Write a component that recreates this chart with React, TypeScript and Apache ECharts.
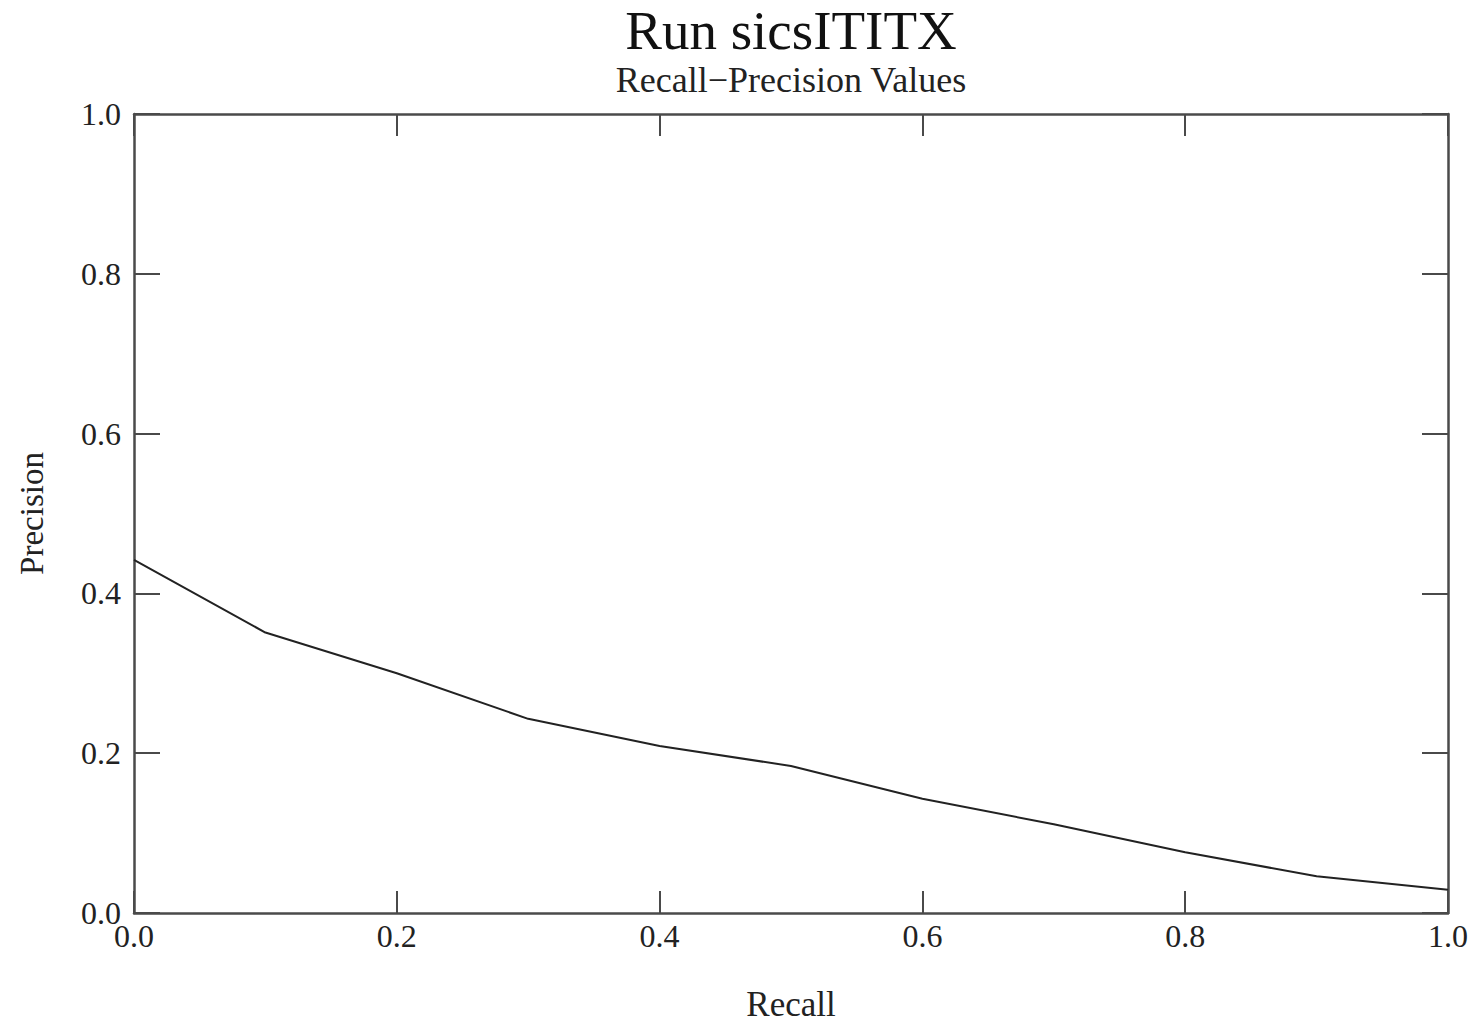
import React, { useEffect, useRef } from "react";
import * as echarts from "echarts";

const recallLevels = [0.0, 0.1, 0.2, 0.3, 0.4, 0.5, 0.6, 0.7, 0.8, 0.9, 1.0];
const precisionValues = [0.442, 0.351, 0.300, 0.243, 0.209, 0.184, 0.143, 0.111, 0.076, 0.046, 0.029];
const titleText = "Run sicsITITX";
const subtitleText = "Recall\u2212Precision Values";
const xAxisName = "Recall";
const yAxisName = "Precision";

const FONT = "'Liberation Serif', 'DejaVu Serif', serif";
const AXIS_COLOR = "#4a4a4a";

export default function App() {
  const ref = useRef<HTMLDivElement>(null);
  useEffect(() => {
    if (!ref.current) return;
    const chart = echarts.init(ref.current, null, { renderer: "svg" });
    const data = recallLevels.map((r, i) => [r, precisionValues[i]]);
    const gridLeft = 134;
    const gridRight = 34;
    const plotCenterX = gridLeft + (1482 - gridLeft - gridRight) / 2;
    const baseAxis = {
      type: "value" as const,
      min: 0,
      max: 1,
      interval: 0.2,
      splitLine: { show: false },
      axisLine: { show: true, onZero: false, lineStyle: { color: AXIS_COLOR, width: 2.5 } },
      axisTick: { show: true, inside: true, lineStyle: { color: AXIS_COLOR, width: 2 } },
    };
    chart.setOption({
      animation: false,
      backgroundColor: "#fff",
      graphic: [
        {
          type: "text",
          style: {
            text: titleText,
            x: plotCenterX,
            y: 30,
            align: "center",
            verticalAlign: "middle",
            font: `55px ${FONT}`,
            fill: "#111",
          },
        },
        {
          type: "text",
          style: {
            text: subtitleText,
            x: plotCenterX,
            y: 80,
            align: "center",
            verticalAlign: "middle",
            font: `36px ${FONT}`,
            fill: "#222",
          },
        },
      ],
      grid: {
        left: gridLeft,
        right: gridRight,
        top: 114,
        bottom: 111,
        containLabel: false,
        outerBoundsMode: "none",
      },
      xAxis: [
        {
          ...baseAxis,
          position: "bottom",
          name: xAxisName,
          nameLocation: "middle",
          nameGap: 73,
          nameTextStyle: { fontFamily: FONT, fontSize: 35, lineHeight: 36, color: "#222" },
          axisTick: { ...baseAxis.axisTick, length: 22 },
          axisLabel: {
            show: true,
            margin: 7,
            fontFamily: FONT,
            fontSize: 32,
            color: "#222",
            formatter: (v: number) => v.toFixed(1),
          },
        },
        {
          ...baseAxis,
          position: "top",
          axisTick: { ...baseAxis.axisTick, length: 22 },
          axisLabel: { show: false },
        },
      ],
      yAxis: [
        {
          ...baseAxis,
          position: "left",
          name: yAxisName,
          nameLocation: "middle",
          nameGap: 86,
          nameTextStyle: { fontFamily: FONT, fontSize: 33, color: "#222" },
          axisTick: { ...baseAxis.axisTick, length: 26 },
          axisLabel: {
            show: true,
            margin: 13,
            fontFamily: FONT,
            fontSize: 32,
            color: "#222",
            formatter: (v: number) => v.toFixed(1),
          },
        },
        {
          ...baseAxis,
          position: "right",
          axisTick: { ...baseAxis.axisTick, length: 26 },
          axisLabel: { show: false },
        },
      ],
      series: [
        {
          type: "line",
          xAxisIndex: 0,
          yAxisIndex: 0,
          data,
          showSymbol: false,
          symbol: "none",
          lineStyle: { color: "#222", width: 2 },
        },
      ],
    });
    return () => chart.dispose();
  }, []);
  return <div ref={ref} style={{ width: 1482, height: 1024, position: "absolute", left: 0, top: 0 }} />;
}
